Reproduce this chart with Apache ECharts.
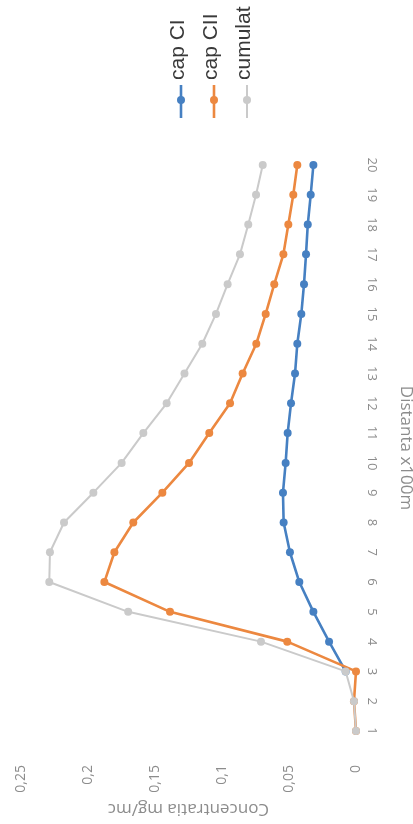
<!DOCTYPE html>
<html>
<head>
<meta charset="utf-8">
<script src="https://cdn.jsdelivr.net/npm/echarts@6/dist/echarts.min.js"></script>
<style>
html,body{margin:0;padding:0;background:#fff;}
#c{width:413px;height:824px;}
</style>
</head>
<body>
<div id="c"></div>
<script>
var categories = ['1','2','3','4','5','6','7','8','9','10','11','12','13','14','15','16','17','18','19','20'];
var seriesNames = ['cap CI', 'cap CII', 'cumulat'];
var capCI   = ['-', '-', 0.0077, 0.0201, 0.0318, 0.0423, 0.0493, 0.054, 0.0545, 0.0525, 0.051, 0.0485, 0.0455, 0.0438, 0.0408, 0.0388, 0.0373, 0.036, 0.0338, 0.0318];
var capCII  = [0, 0.0015, 0, 0.0513, 0.1388, 0.1878, 0.1803, 0.1662, 0.1445, 0.1246, 0.1095, 0.094, 0.0846, 0.0744, 0.0674, 0.061, 0.0542, 0.0505, 0.0468, 0.0438];
var cumulat = [0, 0.0015, 0.0077, 0.0709, 0.170, 0.2289, 0.2284, 0.2179, 0.196, 0.1749, 0.1587, 0.1413, 0.128, 0.1147, 0.1045, 0.0958, 0.0866, 0.0804, 0.0746, 0.0696];
var valueTicks = { min: 0, max: 0.25, interval: 0.05 };
var xTitle = 'Concentratia mg/mc';
var yTitle = 'Distanta x100m';

var colors = ['#4680C2', '#EC8840', '#CACACA'];
var dataSets = [capCI, capCII, cumulat];
var font = '"Open Sans", "DejaVu Sans", sans-serif';

var chart = echarts.init(document.getElementById('c'), null, {renderer: 'canvas'});

var series = dataSets.map(function (d, i) {
  return {
    name: seriesNames[i],
    type: 'line',
    data: d,
    symbol: 'circle',
    symbolSize: 8,
    showSymbol: true,
    lineStyle: { color: colors[i], width: i === 2 ? 2 : 2.6 },
    itemStyle: { color: colors[i] },
    z: 2 + i,
    animation: false
  };
});

var legendMarkerX = [181, 214, 247];
var legendGraphics = [];
seriesNames.forEach(function (n, i) {
  var x = legendMarkerX[i];
  legendGraphics.push({
    type: 'line',
    shape: { x1: x, y1: 85, x2: x, y2: 118 },
    style: { stroke: colors[i], lineWidth: i === 2 ? 2 : 2.6 }
  });
  legendGraphics.push({
    type: 'circle',
    shape: { cx: x, cy: 100, r: 4 },
    style: { fill: colors[i] }
  });
  legendGraphics.push({
    type: 'text',
    x: x - 3,
    y: 80,
    rotation: Math.PI / 2,
    style: {
      text: n,
      fill: '#3a3a3a',
      font: '21px "Liberation Sans", Arial, sans-serif',
      align: 'left',
      verticalAlign: 'middle'
    }
  });
});

chart.setOption({
  animation: false,
  backgroundColor: '#ffffff',
  grid: { left: 21, right: 57, top: 165, bottom: 93, outerBoundsMode: 'none', containLabel: false },
  xAxis: {
    type: 'value',
    inverse: true,
    min: valueTicks.min,
    max: valueTicks.max,
    interval: valueTicks.interval,
    position: 'bottom',
    axisLine: { show: false },
    axisTick: { show: false },
    splitLine: { show: false },
    axisLabel: {
      rotate: 90,
      margin: 34,
      fontSize: 14,
      color: '#8c8c8c',
      fontFamily: font,
      formatter: function (v) { return String(+v.toFixed(2)).replace('.', ','); }
    },
    name: xTitle,
    nameLocation: 'middle',
    nameRotate: 180,
    nameGap: 69,
    nameTextStyle: { fontSize: 17, color: '#8c8c8c', fontFamily: font }
  },
  yAxis: {
    type: 'category',
    data: categories,
    boundaryGap: false,
    position: 'right',
    axisLine: { show: false },
    axisTick: { show: false },
    splitLine: { show: false },
    axisLabel: {
      rotate: -90,
      margin: 9,
      fontSize: 13,
      color: '#8c8c8c',
      fontFamily: font,
      interval: 0
    },
    name: yTitle,
    nameLocation: 'middle',
    nameRotate: -90,
    nameGap: 41,
    nameTextStyle: { fontSize: 17, color: '#8c8c8c', fontFamily: font }
  },
  graphic: legendGraphics,
  series: series
});
</script>
</body>
</html>
